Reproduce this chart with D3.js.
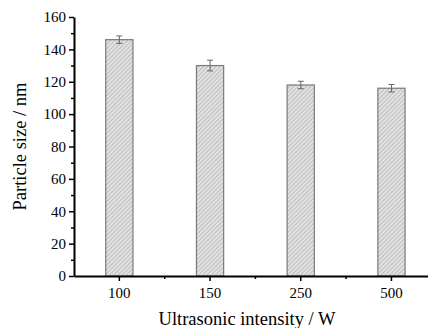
<!DOCTYPE html>
<html>
<head>
<meta charset="utf-8">
<script src="https://cdn.jsdelivr.net/npm/d3@7"></script>
<style>
  body { margin: 0; background: #fff; }
  svg { display: block; font-family: "Liberation Serif", "Times New Roman", serif; }
</style>
</head>
<body>
<svg id="chart" width="428" height="328"></svg>
<script>
// Data
const categories = ["100", "150", "250", "500"];
const sizes = [146, 130, 118, 116];
const errors = [2.3, 3.3, 2.3, 2.3];
const yTicks = [0, 20, 40, 60, 80, 100, 120, 140, 160];

const margin = { top: 17, left: 74 };
const plotH = 259;
const step = 90.7;

const svg = d3.select("#chart");

// hatch pattern
const defs = svg.append("defs");
const pat = defs.append("pattern")
  .attr("id", "hatch")
  .attr("patternUnits", "userSpaceOnUse")
  .attr("width", 3).attr("height", 3)
  .attr("patternTransform", "rotate(45)");
pat.append("rect").attr("width", 3).attr("height", 3).attr("fill", "#e2e2e2");
pat.append("line").attr("x1", 0).attr("y1", 0).attr("x2", 0).attr("y2", 3)
  .attr("stroke", "#9a9a9a").attr("stroke-width", 1);

const g = svg.append("g").attr("transform", `translate(${margin.left},${margin.top})`);

// Scales
const x = d3.scaleBand().domain(categories)
  .range([0, step * categories.length])
  .paddingInner(0.7).paddingOuter(0.35);
const y = d3.scaleLinear().domain([0, 160]).range([plotH, 0]);
const cx = i => x(categories[i]) + x.bandwidth() / 2;

// Bars
g.selectAll(".bar")
  .data(sizes)
  .enter()
  .append("rect")
  .attr("x", (d, i) => x(categories[i]))
  .attr("y", d => y(d))
  .attr("width", x.bandwidth())
  .attr("height", d => plotH - y(d))
  .attr("fill", "url(#hatch)")
  .attr("stroke", "#7a7a7a")
  .attr("stroke-width", 1.2);

// Error bars
const eb = g.selectAll(".err").data(sizes).enter().append("g")
  .attr("stroke", "#666").attr("stroke-width", 1);
eb.append("line")
  .attr("x1", (d, i) => cx(i)).attr("x2", (d, i) => cx(i))
  .attr("y1", (d, i) => y(d + errors[i]))
  .attr("y2", (d, i) => y(d - errors[i]));
eb.append("line")
  .attr("x1", (d, i) => cx(i) - 3).attr("x2", (d, i) => cx(i) + 3)
  .attr("y1", (d, i) => y(d + errors[i]))
  .attr("y2", (d, i) => y(d + errors[i]));
eb.append("line")
  .attr("x1", (d, i) => cx(i) - 3).attr("x2", (d, i) => cx(i) + 3)
  .attr("y1", (d, i) => y(d - errors[i]))
  .attr("y2", (d, i) => y(d - errors[i]));

// Y axis with minor ticks
g.append("g")
  .call(d3.axisLeft(y).tickValues(d3.range(10, 160, 20)).tickSize(3).tickFormat(""))
  .call(a => a.select(".domain").remove())
  .selectAll("line").attr("stroke-width", 1.5);
const yAxis = g.append("g")
  .call(d3.axisLeft(y).tickValues(yTicks).tickSize(5).tickSizeOuter(0).tickPadding(3));
yAxis.select(".domain").attr("stroke-width", 2);
yAxis.selectAll("line").attr("stroke-width", 1.5);
yAxis.selectAll("text").attr("font-size", 15).attr("font-family", "Liberation Serif");

// X axis
const xAxisG = g.append("g").attr("transform", `translate(0,${plotH})`);
xAxisG.append("g")
  .call(d3.axisBottom(x).tickSize(5).tickSizeOuter(0).tickPadding(6))
  .call(a => {
    a.select(".domain").attr("stroke-width", 2);
    a.selectAll("line").attr("stroke-width", 1.5);
    a.selectAll("text").attr("font-size", 15).attr("font-family", "Liberation Serif");
  });
// minor ticks between categories
xAxisG.selectAll(".minor")
  .data(categories.slice(1))
  .enter()
  .append("line")
  .attr("x1", (d, i) => cx(i + 1) - x.step() / 2)
  .attr("x2", (d, i) => cx(i + 1) - x.step() / 2)
  .attr("y1", 0).attr("y2", 3)
  .attr("stroke", "#000").attr("stroke-width", 1.5);

// Axis titles
svg.append("text")
  .attr("transform", `translate(26,${margin.top + plotH / 2}) rotate(-90)`)
  .attr("text-anchor", "middle")
  .attr("font-size", 18.5)
  .text("Particle size / nm");

svg.append("text")
  .attr("x", 247)
  .attr("y", 325)
  .attr("text-anchor", "middle")
  .attr("font-size", 18.5)
  .text("Ultrasonic intensity / W");
</script>
</body>
</html>
